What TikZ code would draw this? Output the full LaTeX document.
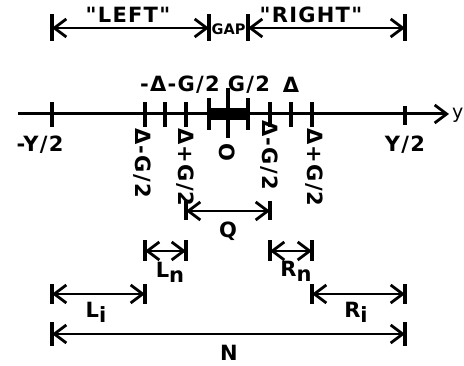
\documentclass[tikz,border=0pt]{standalone}
\usepackage{fontspec}
\setmainfont{DejaVu Sans}[Ligatures=TeXOff,LetterSpace=6]
\newfontfamily\gapfont{DejaVu Sans}[LetterSpace=0]
\usetikzlibrary{arrows.meta}
\begin{document}
\begin{tikzpicture}[x=1pt,y=-1pt,
  bar/.tip={Straight Barb[length=12pt,width=18pt,line width=2.8pt]},
  dim/.style={line width=2.8pt,{bar}-{bar}},
  axis/.style={line width=3pt,-{bar}},
  tk/.style={line width=3.8pt},
  lbl/.style={font=\fontsize{21}{22}\selectfont\bfseries,inner sep=0pt},
  small/.style={font=\gapfont\fontsize{14.5}{15}\selectfont\bfseries,inner sep=0pt},
  vlbl/.style={lbl,rotate=-90,anchor=west},
]
\useasboundingbox (0,0) rectangle (464,366);
% top dimension row
\coordinate (tA) at (52,28); \coordinate (tB) at (209,28);
\coordinate (tC) at (248,28); \coordinate (tD) at (405,28);
\foreach \p in {tA,tB,tC,tD} \draw[tk] ([yshift=-13pt]\p) -- ([yshift=14pt]\p);
\draw[dim] (tA) -- (tB);
\draw[dim] (tC) -- (tD);
\node[lbl] (left) at (128,15) {"LEFT"};
\node[small] (gap) at (228.5,29) {GAP};
\node[lbl] (right) at (311,15) {"RIGHT"};
% axis
\coordinate (ax0) at (18,114); \coordinate (ax1) at (449,114);
\draw[axis] (ax0) -- (ax1);
\node[inner sep=0pt,font=\fontsize{19}{20}\selectfont,anchor=base west] (ylab) at (452,119) {y};
\fill (209,108) rectangle (248,120);
\foreach \x in {52,145,165,186,270,291,312} \draw[tk] (\x,102) -- (\x,127);
\draw[tk] (405,106) -- (405,125);
\draw[tk] (209,98) -- (209,130);
\draw[tk] (248,98) -- (248,130);
\draw[tk] (228,88) -- (228,138);
% labels above axis
\node[lbl] (a1) at (180,85) {-Δ-G/2};
\node[lbl] (a2) at (249,85) {G/2};
\node[lbl] (a3) at (291,85) {Δ};
% labels below axis
\node[lbl] (my) at (40,145) {-Y/2};
\node[lbl] (py) at (405,145) {Y/2};
\node[vlbl] (b1) at (142,128) {Δ-G/2};
\node[vlbl] (b2) at (185,128) {Δ+G/2};
\node[lbl,rotate=-90] (b0) at (227,152) {O};
\node[vlbl] (b3) at (269,120) {Δ-G/2};
\node[vlbl] (b4) at (314,128) {Δ+G/2};
% Q
\coordinate (q0) at (186,211); \coordinate (q1) at (270,211);
\foreach \p in {q0,q1} \draw[tk] ([yshift=-9pt]\p) -- ([yshift=10pt]\p);
\draw[dim] (q0) -- (q1);
\node[lbl] (q) at (228,231) {Q};
% Ln, Rn
\coordinate (ln0) at (145,251); \coordinate (ln1) at (186,251);
\coordinate (rn0) at (270,251); \coordinate (rn1) at (312,251);
\foreach \p in {ln0,ln1,rn0,rn1} \draw[tk] ([yshift=-10pt]\p) -- ([yshift=11pt]\p);
\draw[dim] (ln0) -- (ln1);
\draw[dim] (rn0) -- (rn1);
\node[lbl] (ln) at (170,272) {L\raisebox{-5pt}{n}};
\node[lbl] (rn) at (296,271) {R\raisebox{-5pt}{n}};
% Li, Ri
\coordinate (li0) at (52,294); \coordinate (li1) at (145,294);
\coordinate (ri0) at (312,294); \coordinate (ri1) at (405,294);
\foreach \p in {li0,li1,ri0,ri1} \draw[tk] ([yshift=-10pt]\p) -- ([yshift=10pt]\p);
\draw[dim] (li0) -- (li1);
\draw[dim] (ri0) -- (ri1);
\node[lbl] (li) at (96,312) {L\raisebox{-5pt}{i}};
\node[lbl] (ri) at (356,312) {R\raisebox{-5pt}{i}};
% N
\coordinate (n0) at (52,334); \coordinate (n1) at (405,334);
\foreach \p in {n0,n1} \draw[tk] ([yshift=-12pt]\p) -- ([yshift=12pt]\p);
\draw[dim] (n0) -- (n1);
\node[lbl] (n) at (229,353) {N};
\end{tikzpicture}
\end{document}
